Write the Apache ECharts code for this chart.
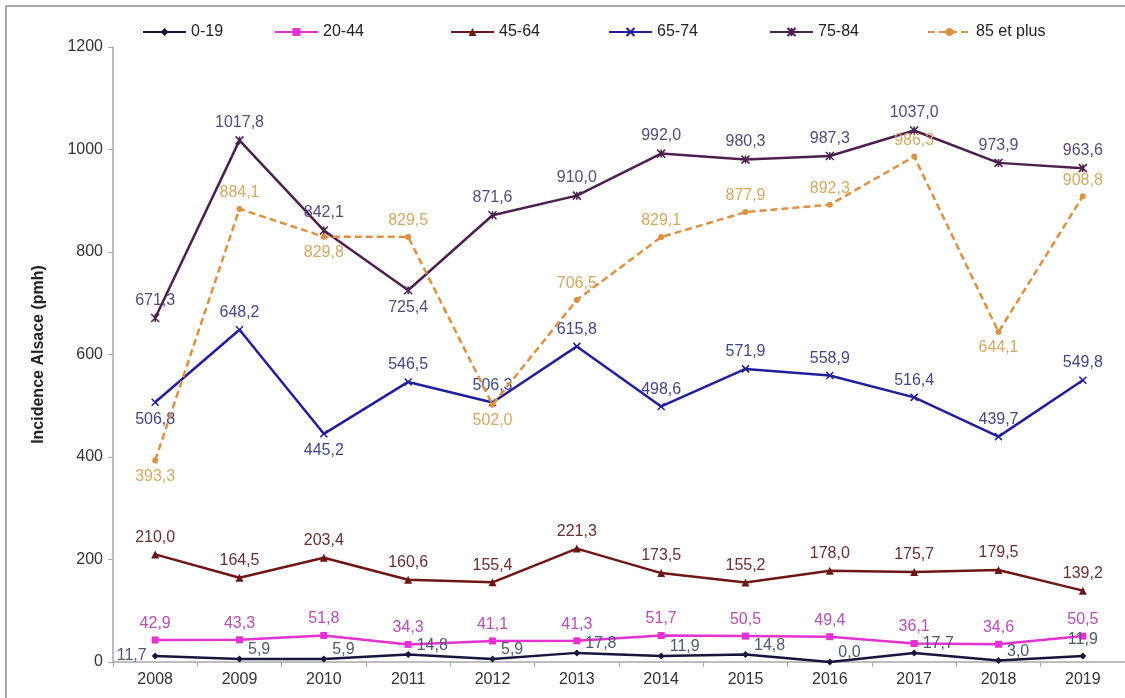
<!DOCTYPE html>
<html>
<head>
<meta charset="utf-8">
<script src="https://cdn.jsdelivr.net/npm/echarts@6/dist/echarts.min.js"></script>
<style>
  html, body { margin: 0; padding: 0; background: #fff; }
  #chart { width: 1125px; height: 698px; }
</style>
</head>
<body>
<div id="chart"></div>
<script>
// données
var years = ['2008', '2009', '2010', '2011', '2012', '2013', '2014', '2015', '2016', '2017', '2018', '2019']
var names = ['0-19', '20-44', '45-64', '65-74', '75-84', '85 et plus']
var v0_19 = [11.7, 5.9, 5.9, 14.8, 5.9, 17.8, 11.9, 14.8, 0.0, 17.7, 3.0, 11.9]
var v20_44 = [42.9, 43.3, 51.8, 34.3, 41.1, 41.3, 51.7, 50.5, 49.4, 36.1, 34.6, 50.5]
var v45_64 = [210.0, 164.5, 203.4, 160.6, 155.4, 221.3, 173.5, 155.2, 178.0, 175.7, 179.5, 139.2]
var v65_74 = [506.8, 648.2, 445.2, 546.5, 506.3, 615.8, 498.6, 571.9, 558.9, 516.4, 439.7, 549.8]
var v75_84 = [671.3, 1017.8, 842.1, 725.4, 871.6, 910.0, 992.0, 980.3, 987.3, 1037.0, 973.9, 963.6]
var v85 = [393.3, 884.1, 829.8, 829.5, 502.0, 706.5, 829.1, 877.9, 892.3, 986.3, 644.1, 908.8]
var yTicks = { min: 0, max: 1200, step: 200 }

var values = [v0_19, v20_44, v45_64, v65_74, v75_84, v85]

// styles
var lineColors = ['#15153f', '#e431d2', '#6e1616', '#1f1f9e', '#4c1f50', '#dd8f42']
var labelColors = ['#4a5a72', '#b84cb8', '#6a2e2e', '#3f478c', '#58497c', '#d4a862']
var symbols = ['diamond', 'rect', 'triangle',
  'path://M0,0L10,10M10,0L0,10',
  'path://M0,0L10,10M10,0L0,10M5,0L5,10',
  'circle']
var symbolSizes = [7, 7, 8, 7, 8, 6]
var legendLeft = [137, 269, 445, 603, 764, 922]
// placement des étiquettes (défaut puis exceptions)
var labelDefault = ['right', 'top', 'top', 'top', 'top', 'top']
var labelExceptions = [
  { 0: 'left', 11: 'top' },
  {},
  {},
  { 0: 'bottom', 2: 'bottom' },
  { 3: 'bottom' },
  { 0: 'bottom', 2: 'bottom', 4: 'bottom', 10: 'bottom' }
]

function fmt(p) {
  return p.value.toFixed(1).replace('.', ',')
}

var series = []
for (var s = 0; s < names.length; s++) {
  var data = []
  for (var i = 0; i < years.length; i++) {
    var pos = labelExceptions[s][i] || labelDefault[s]
    var lbl = { position: pos }
    if (s === 0 && pos === 'right') lbl.offset = [0, -9]
    data.push({ value: values[s][i], label: lbl })
  }
  var isPath = symbols[s].indexOf('path://') === 0
  series.push({
    name: names[s],
    type: 'line',
    data: data,
    symbol: symbols[s],
    symbolSize: symbolSizes[s],
    showAllSymbol: true,
    lineStyle: {
      color: lineColors[s],
      width: 2.5,
      type: s === 5 ? [7, 4] : 'solid'
    },
    itemStyle: {
      color: lineColors[s],
      borderColor: lineColors[s],
      borderWidth: isPath ? 1.5 : 0
    },
    label: {
      show: true,
      formatter: fmt,
      color: labelColors[s],
      fontSize: 16,
      distance: 5
    },
    z: s === 5 ? 3 : 2
  })
}

var legends = []
for (var k = 0; k < names.length; k++) {
  legends.push({
    data: [names[k]],
    left: legendLeft[k],
    top: 19,
    itemWidth: 43,
    itemHeight: 10,
    textStyle: { fontSize: 16, color: '#222' }
  })
}

var chart = echarts.init(document.getElementById('chart'))
var option = {
  animation: false,
  textStyle: { fontFamily: 'Liberation Sans, Arial, sans-serif' },
  graphic: [{
    type: 'rect',
    shape: { x: 6, y: 6, width: 1130, height: 700 },
    style: { fill: 'none', stroke: '#8a8a8a', lineWidth: 1.5 }
  }],
  legend: legends,
  grid: { left: 113, top: 47, width: 1020, height: 615 },
  xAxis: {
    type: 'category',
    data: years,
    boundaryGap: true,
    axisLine: { lineStyle: { color: '#a8a8a8', width: 1.5 } },
    axisTick: { show: true, length: 5, lineStyle: { color: '#a8a8a8' } },
    axisLabel: { color: '#333', fontSize: 16, margin: 10 }
  },
  yAxis: {
    type: 'value',
    min: yTicks.min,
    max: yTicks.max,
    interval: yTicks.step,
    name: 'Incidence Alsace (pmh)',
    nameLocation: 'middle',
    nameGap: 66,
    nameTextStyle: { fontSize: 16, fontWeight: 'bold', color: '#222' },
    axisLine: { show: true, lineStyle: { color: '#a8a8a8', width: 1.5 } },
    axisTick: { show: true, length: 5, lineStyle: { color: '#a8a8a8' } },
    axisLabel: {
      color: '#333',
      fontSize: 16,
      margin: 10,
      formatter: function (v) { return String(v) }
    },
    splitLine: { show: false }
  },
  series: series
}
chart.setOption(option)
</script>
</body>
</html>
